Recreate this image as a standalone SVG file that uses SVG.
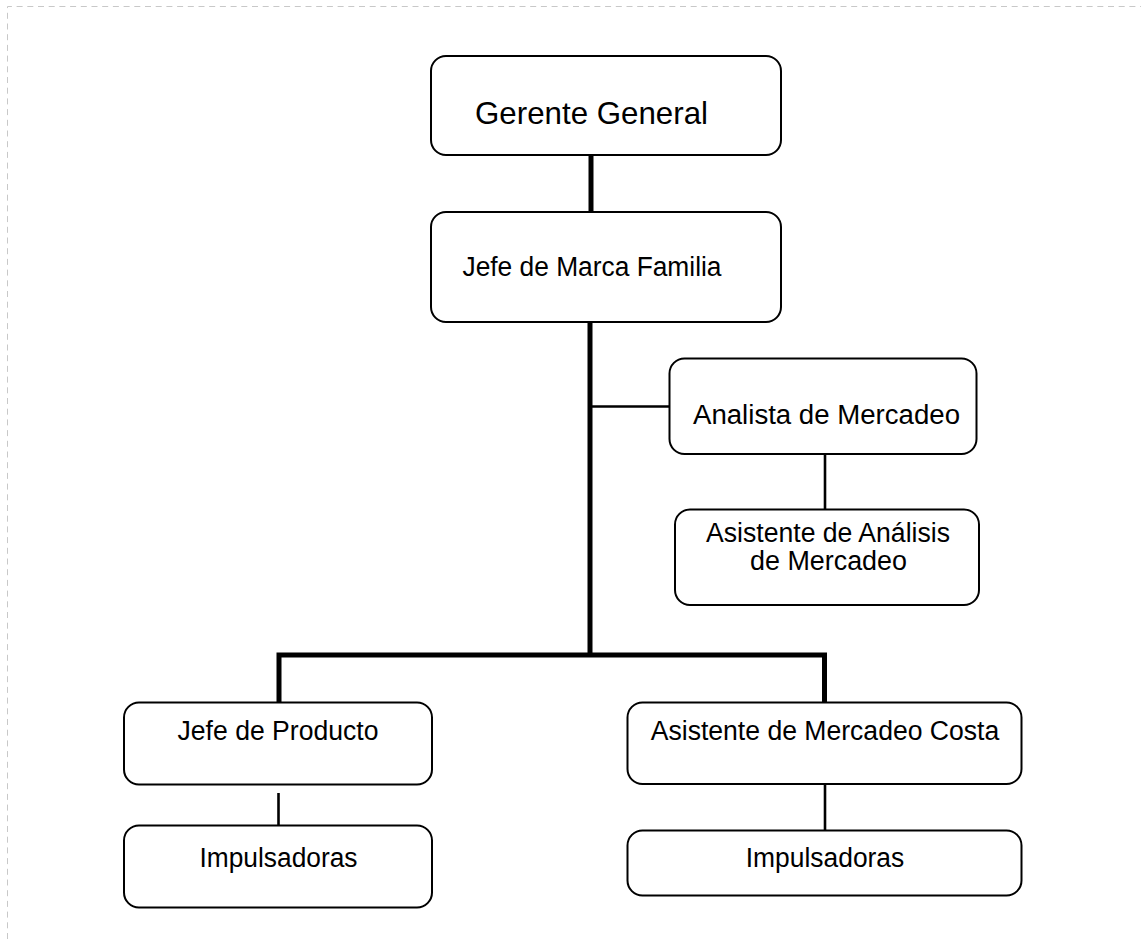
<svg xmlns="http://www.w3.org/2000/svg" width="1141" height="939" viewBox="0 0 1141 939">
  <style>
    .box { fill: #ffffff; stroke: #000000; stroke-width: 2; }
    .lbl { font-family: "Liberation Sans", Arial, sans-serif; font-size: 27px; fill: #000000; text-anchor: middle; }
    .big { font-size: 30.5px; }
    .thick { stroke: #000000; stroke-width: 5; fill: none; stroke-linecap: square; }
    .thin { stroke: #000000; stroke-width: 2.6; fill: none; }
    .frame { stroke: #c8c8c8; stroke-width: 1; fill: none; stroke-dasharray: 6 4.7; }
  </style>

  <rect width="1141" height="939" fill="#ffffff"/>
  <!-- page frame -->
  <path class="frame" d="M7.5,939 V6.5 H1141"/>

  <!-- reporting lines -->
  <g id="connectors">
    <line class="thick" x1="591" y1="156" x2="591" y2="211"/>
    <path class="thick" d="M590,323 V655 M279,701 V655 H824.5 V701"/>
    <line class="thin" x1="592" y1="406.5" x2="669" y2="406.5"/>
    <line class="thin" x1="825" y1="451" x2="825" y2="509"/>
    <line class="thin" x1="278.5" y1="793" x2="278.5" y2="825"/>
    <line class="thin" x1="825" y1="785" x2="825" y2="830"/>
  </g>

  <g id="gerente-general">
    <rect class="box" x="431" y="56" width="350" height="99" rx="15"/>
    <text class="lbl big" x="591.5" y="124" textLength="233" lengthAdjust="spacingAndGlyphs">Gerente General</text>
  </g>

  <g id="jefe-marca-familia">
    <rect class="box" x="431" y="212" width="350" height="110" rx="15"/>
    <text class="lbl" x="592" y="276" textLength="259" lengthAdjust="spacingAndGlyphs">Jefe de Marca Familia</text>
  </g>

  <g id="analista-mercadeo">
    <rect class="box" x="669.5" y="358.5" width="307" height="95.5" rx="15"/>
    <text class="lbl" x="826.5" y="423.5" textLength="267" lengthAdjust="spacingAndGlyphs">Analista de Mercadeo</text>
  </g>

  <g id="asistente-analisis">
    <rect class="box" x="675" y="509.5" width="304" height="95.5" rx="15"/>
    <text class="lbl" x="828" y="541.5" textLength="244" lengthAdjust="spacingAndGlyphs">Asistente de Análisis</text>
    <text class="lbl" x="828.5" y="570" textLength="157" lengthAdjust="spacingAndGlyphs">de Mercadeo</text>
  </g>

  <g id="jefe-producto">
    <rect class="box" x="124" y="702.5" width="308" height="82" rx="15"/>
    <text class="lbl" x="278" y="740" textLength="201" lengthAdjust="spacingAndGlyphs">Jefe de Producto</text>
  </g>

  <g id="impulsadoras-producto">
    <rect class="box" x="124" y="825.5" width="308" height="82" rx="15"/>
    <text class="lbl" x="278.5" y="867" textLength="158" lengthAdjust="spacingAndGlyphs">Impulsadoras</text>
  </g>

  <g id="asistente-mercadeo-costa">
    <rect class="box" x="627.5" y="702.5" width="394" height="81.5" rx="15"/>
    <text class="lbl" x="825" y="739.5" textLength="348.5" lengthAdjust="spacingAndGlyphs">Asistente de Mercadeo Costa</text>
  </g>

  <g id="impulsadoras-costa">
    <rect class="box" x="627.5" y="830.5" width="394" height="65" rx="15"/>
    <text class="lbl" x="825" y="867" textLength="158.5" lengthAdjust="spacingAndGlyphs">Impulsadoras</text>
  </g>
</svg>
